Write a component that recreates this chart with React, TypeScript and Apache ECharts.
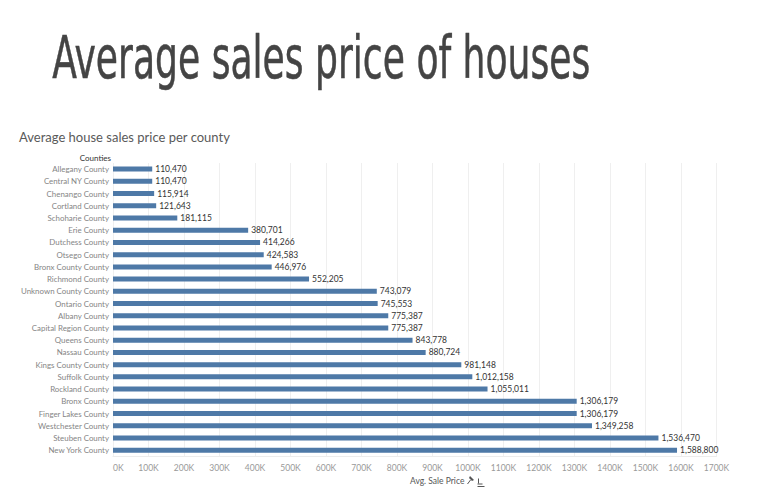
import React, { useEffect, useRef } from "react";
import * as echarts from "echarts";

const counties = [
  "Allegany County",
  "Central NY County",
  "Chenango County",
  "Cortland County",
  "Schoharie County",
  "Erie County",
  "Dutchess County",
  "Otsego County",
  "Bronx County County",
  "Richmond County",
  "Unknown County County",
  "Ontario County",
  "Albany County",
  "Capital Region County",
  "Queens County",
  "Nassau County",
  "Kings County County",
  "Suffolk County",
  "Rockland County",
  "Bronx County",
  "Finger Lakes County",
  "Westchester County",
  "Steuben County",
  "New York County",
];

const avgSalePrice = [
  110470, 110470, 115914, 121643, 181115, 380701, 414266, 424583, 446976,
  552205, 743079, 745553, 775387, 775387, 843778, 880724, 981148, 1012158,
  1055011, 1306179, 1306179, 1349258, 1536470, 1588800,
];

const mainTitle = "Average sales price of houses";
const subTitle = "Average house sales price per county";
const yHeader = "Counties";
const xName = "Avg. Sale Price";

export default function App() {
  const ref = useRef<HTMLDivElement>(null);
  useEffect(() => {
    if (!ref.current) return;
    const chart = echarts.init(ref.current, null, { renderer: "svg" });
    const small = "Lato, 'Noto Sans', sans-serif";
    chart.setOption({
      animation: false,
      backgroundColor: "#ffffff",
      grid: { left: 113, right: 48.5, top: 163, bottom: 44.7, containLabel: false },
      xAxis: {
        type: "value",
        min: 0,
        max: 1700000,
        interval: 100000,
        axisLine: { show: true, lineStyle: { color: "#ececec", width: 1 } },
        axisTick: { show: false },
        splitLine: { show: true, lineStyle: { color: "#efefef", width: 1 } },
        axisLabel: {
          color: "#999999",
          fontSize: 8.5,
          fontFamily: small,
          margin: 7,
          alignMinLabel: "left",
          formatter: (v: number) => Math.round(v / 1000) + "K",
        },
      },
      yAxis: {
        type: "category",
        inverse: true,
        data: counties,
        axisLine: { show: false },
        axisTick: { show: false },
        splitLine: { show: false },
        axisLabel: {
          color: "#858585",
          fontSize: 7.9,
          fontFamily: small,
          margin: 4,
        },
      },
      series: [
        {
          type: "bar",
          data: avgSalePrice,
          barWidth: 5,
          itemStyle: { color: "#4e79a7" },
          label: {
            show: true,
            position: "right",
            distance: 3,
            color: "#333333",
            fontSize: 8.5,
            fontFamily: small,
            formatter: (p: any) => Number(p.value).toLocaleString("en-US"),
          },
        },
      ],
      graphic: [
        {
          type: "text",
          left: 52,
          top: 29,
          style: {
            text: mainTitle,
            fontFamily: "'DejaVu Sans Condensed', 'Liberation Sans Narrow', sans-serif",
            fontSize: 58,
            fill: "#444444",
            stroke: "#444444",
            lineWidth: 0.5,
          },
          scaleX: 0.692,
        },
        {
          type: "text",
          left: 19,
          top: 130,
          style: {
            text: subTitle,
            fontFamily: "Lato, sans-serif",
            fontSize: 13,
            fill: "#5a5a5a",
          },
        },
        {
          type: "text",
          right: 765 - 111,
          top: 153.5,
          style: {
            text: yHeader,
            fontFamily: small,
            fontSize: 8,
            fill: "#333333",
          },
        },
        {
          type: "text",
          left: 410,
          top: 476,
          style: {
            text: xName,
            fontFamily: small,
            fontSize: 8.5,
            fill: "#555555",
          },
        },
        {
          type: "group",
          left: 465,
          top: 476,
          children: [
            { type: "polygon", shape: { points: [[3, 0], [7, 4], [5, 5], [2, 2]] }, style: { fill: "#555" } },
            { type: "line", shape: { x1: 3.5, y1: 4, x2: 0.5, y2: 8 }, style: { stroke: "#555", lineWidth: 1 } },
          ],
        },
        {
          type: "group",
          left: 475,
          top: 476,
          children: [
            { type: "line", shape: { x1: 1, y1: 0, x2: 1, y2: 5 }, style: { stroke: "#555", lineWidth: 1 } },
            { type: "line", shape: { x1: 0, y1: 5.5, x2: 5, y2: 5.5 }, style: { stroke: "#555", lineWidth: 1 } },
            { type: "line", shape: { x1: 0, y1: 8, x2: 7, y2: 8 }, style: { stroke: "#555", lineWidth: 1 } },
          ],
        },
      ],
    });
    return () => chart.dispose();
  }, []);
  return (
    <div
      ref={ref}
      style={{ position: "fixed", left: 0, top: 0, width: 765, height: 501, background: "#fff" }}
    />
  );
}
